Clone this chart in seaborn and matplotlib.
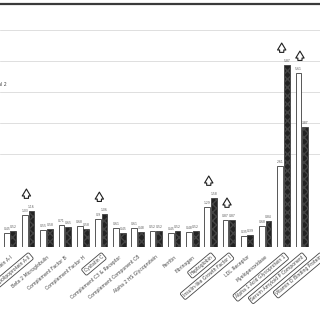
import pandas as pd
import seaborn as sns
import matplotlib.pyplot as plt

# marker names (the last one has its bars off the right edge of the crop)
markers = ['Apolipoprotein A-I', 'Apolipoprotein A-II', 'Beta 2 Microglobulin',
           'Complement Factor B', 'Complement Factor H', 'Cystatin C',
           'Complement C3 & Receptor', 'Complement Component C8',
           'Alpha 2 HS Glycoprotein', 'Ferritin', 'Fibrinogen', 'Haptoglobin',
           'Insulin-like Growth Factor I', 'LDL Receptor', 'Myeloperoxidase',
           'Alpha 1 Acid Glycoprotein 1', 'Serum Amyloid P Component',
           'Vitamin D Binding Protein']
boxed = [1, 5, 11, 12, 15, 16, 17]
arrows = [1, 5, 11, 12, 15, 16]

# values (one gridline = 1 unit)
group_1 = [0.45, 1.03, 0.55, 0.71, 0.68, 0.90, 0.61, 0.61, 0.52, 0.45, 0.48,
           1.29, 0.87, 0.35, 0.68, 2.61, 5.61]
group_2 = [0.52, 1.16, 0.58, 0.65, 0.58, 1.06, 0.45, 0.48, 0.52, 0.52, 0.52,
           1.58, 0.87, 0.39, 0.84, 5.87, 3.87]

n = len(group_1)
df = pd.DataFrame({
    'marker': markers[:n] * 2,
    'group': ['1'] * n + ['2'] * n,
    'value': group_1 + group_2,
})

sns.set_style('white')
plt.rcParams['font.family'] = ['DejaVu Sans']

fig = plt.figure(figsize=(3.2, 3.2), dpi=100)
ax = fig.add_axes([0.0, 1 - 247 / 320, 1.0, 243 / 320])

sns.barplot(data=df, x='marker', y='value', hue='group', order=markers[:n],
            palette=['white', '#2e2e2e'], width=0.72, gap=0.12,
            edgecolor='#3c3c3c', linewidth=0.6, legend=False, ax=ax)

for bar in ax.containers[1]:
    bar.set_hatch('xxxx')
    bar.set_edgecolor('#444444')
    bar.set_facecolor('#232323')

for cont, vals in zip(ax.containers, [group_1, group_2]):
    ax.bar_label(cont, labels=['%.3g' % v for v in vals], fontsize=2.2,
                 color='#555555', padding=1.5)

# open up-arrows above the changed markers
for i in arrows:
    top = max(group_1[i], group_2[i])
    ax.annotate('', xy=(i - 0.1, top + 0.8), xytext=(i - 0.1, top + 0.32),
                arrowprops=dict(arrowstyle='simple,head_length=0.5,head_width=0.6,tail_width=0.3',
                                fc='white', ec='#1e1e1e', lw=0.8, mutation_scale=10))

ax.set_xlim(-0.548, 16.15)
ax.set_ylim(0, 7.84)
ax.set_yticks([3, 4, 5, 6, 7])
ax.yaxis.grid(True, color='#dedede', linewidth=0.7)
ax.set_axisbelow(True)
ax.tick_params(axis='y', left=False, labelleft=False)
ax.tick_params(axis='x', bottom=False, pad=2)
ax.set_xlabel('')
ax.set_ylabel('')

ax.set_xticks(range(len(markers)))
ax.set_xticklabels(markers, rotation=40, ha='right', rotation_mode='anchor',
                   fontsize=3.3, color='#444444')
for i, lab in enumerate(ax.get_xticklabels()):
    if i in boxed:
        lab.set_bbox(dict(boxstyle='round,pad=0.35', fc='white', ec='#444444', lw=0.6))

for side in ['left', 'right', 'bottom']:
    ax.spines[side].set_visible(False)
ax.spines['top'].set_color('#3a3a3a')
ax.spines['top'].set_linewidth(1.6)

# legend entry cut off by the left edge of the crop
fig.text(-0.022, 1 - 86 / 320, 'Trial 2', fontsize=3.3, color='#444444')

fig.savefig('out.png', dpi=100)
